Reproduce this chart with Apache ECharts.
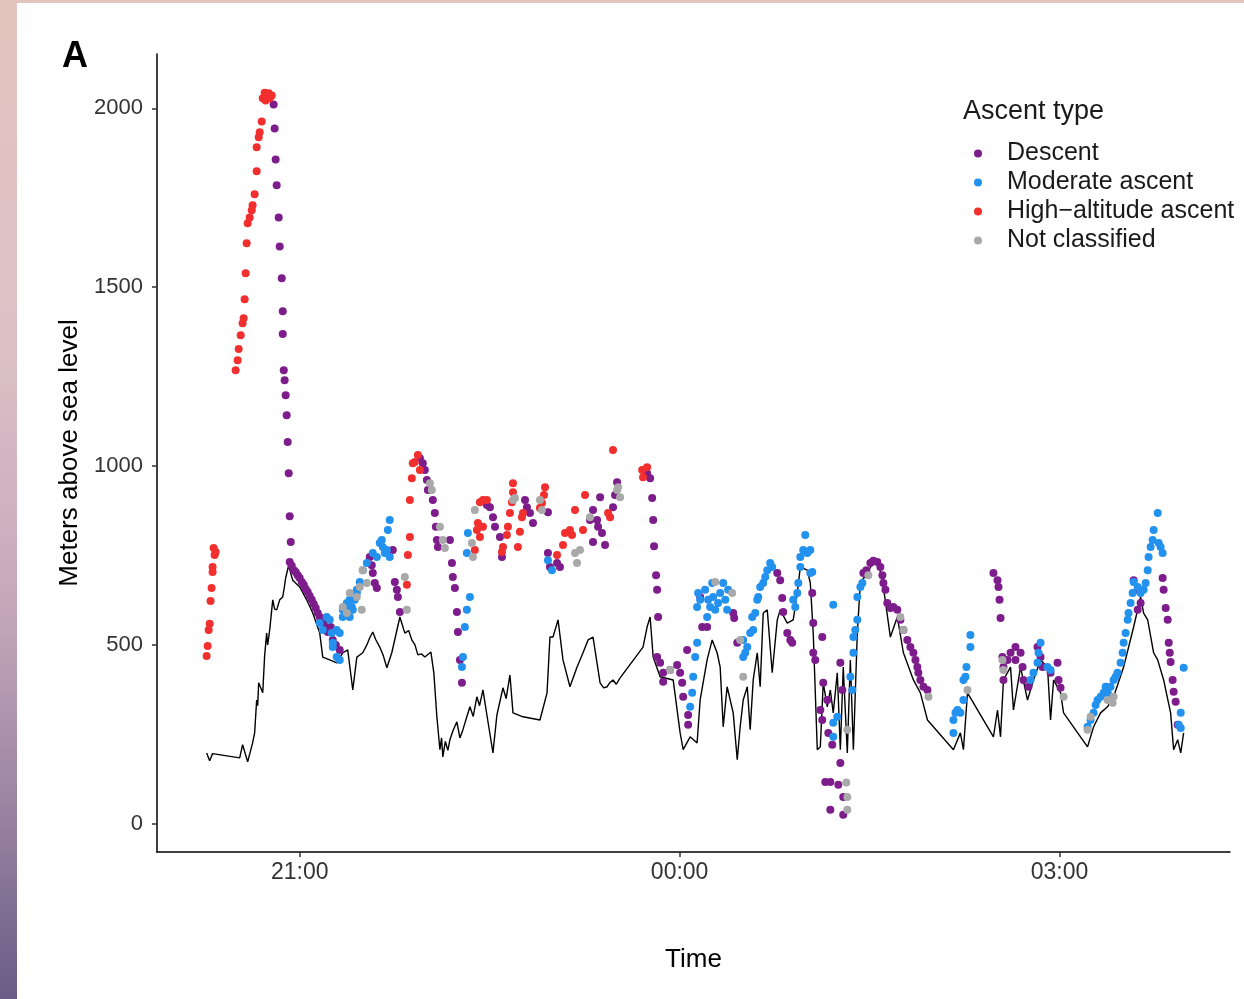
<!DOCTYPE html>
<html>
<head>
<meta charset="utf-8">
<title>Ascent type</title>
<script src="https://cdn.jsdelivr.net/npm/echarts@6/dist/echarts.min.js"></script>
<style>
html, body {
  margin: 0;
  padding: 0;
  width: 1244px;
  height: 999px;
  overflow: hidden;
  background: linear-gradient(to bottom, #e4c4be 0%, #dcc0c6 35%, #c7a8bb 60%, #9c86a4 80%, #6a5c86 100%);
}
#chart {
  position: absolute;
  left: 17px;
  top: 3px;
  width: 1227px;
  height: 996px;
  background: #fff;
}
</style>
</head>
<body>
<div id="chart"></div>
<script>
// time in hours (24 = 00:00 next day), altitude in metres
const timeTicks = [21, 24, 27]
const timeLabels = ['21:00', '00:00', '03:00']
const altTicks = [0, 500, 1000, 1500, 2000]
const typeNames = ['Descent', 'Moderate ascent', 'High\u2212altitude ascent', 'Not classified']
const typeColors = ['#7d1c8b', '#2391ee', '#f22f2f', '#a9a9a9']

// ground line
const terrain = [
  [20.265,198],[20.289,176],[20.312,196],[20.526,184],[20.549,221],[20.589,173],[20.628,226],[20.644,254],[20.660,346],[20.668,330],[20.676,394],
  [20.692,380],[20.708,366],[20.723,470],[20.739,533],[20.747,500],[20.763,542],[20.787,626],[20.802,600],[20.818,598],[20.842,626],[20.866,634],
  [20.878,660],[20.889,687],[20.913,723],[20.929,700],[20.945,681],
  [21.000,662],[21.055,626],[21.103,589],[21.158,533],[21.182,466],[21.237,458],[21.292,450],[21.340,478],[21.379,486],[21.419,374],
  [21.451,466],[21.498,478],[21.530,500],[21.553,520],[21.577,536],[21.600,515],[21.632,494],[21.660,470],[21.688,436],[21.727,478],[21.791,578],
  [21.830,533],[21.860,540],[21.885,514],[21.910,500],[21.933,472],[21.960,475],[21.988,466],[22.036,480],[22.059,422],[22.083,299],[22.107,207],
  [22.120,240],[22.130,187],[22.150,230],[22.170,205],[22.186,235],[22.210,260],[22.241,285],[22.265,240],[22.289,263],[22.320,300],[22.344,327],
  [22.370,300],[22.399,355],[22.420,330],[22.447,374],[22.478,304],[22.526,198],[22.557,304],[22.605,380],[22.630,350],[22.660,416],[22.684,310],
  [22.763,299],[22.897,290],
  [22.953,366],[22.976,522],[23.000,522],[23.040,570],[23.079,458],[23.134,383],[23.190,438],[23.237,478],[23.277,514],[23.316,522],
  [23.372,394],[23.400,380],[23.427,383],[23.450,395],[23.474,402],[23.500,390],[23.530,408],[23.711,494],[23.743,550],[23.767,578],[23.791,466],
  [23.846,411],[23.949,402],
  [24.004,254],[24.028,207],[24.083,243],[24.138,226],[24.162,346],[24.217,458],[24.257,514],[24.296,478],[24.320,438],[24.344,271],
  [24.375,383],[24.423,310],[24.455,179],[24.478,271],[24.502,346],[24.534,383],[24.557,263],[24.581,402],[24.613,478],[24.636,383],
  [24.660,589],[24.692,598],[24.731,422],[24.771,570],[24.794,598],[24.850,561],[24.897,570],[24.929,645],[24.953,718],[25.008,709],
  [25.032,673],[25.055,533],[25.087,207],[25.111,215],[25.134,394],[25.166,327],[25.190,374],[25.213,310],[25.245,422],[25.269,207],
  [25.292,438],[25.324,198],[25.348,458],[25.372,207],[25.403,533],[25.427,673],[25.482,701],[25.538,737],[25.569,732],[25.609,662],
  [25.664,522],[25.719,578],[25.767,478],[25.846,402],[25.901,366],[25.957,290],[26.162,207],[26.217,254],[26.241,207],[26.273,366],
  [26.478,243],[26.510,318],[26.534,243],[26.557,402],[26.613,438],[26.636,318],[26.692,438],[26.747,346],[26.794,402],[26.850,458],
  [26.905,438],[26.929,290],[26.953,402],[27.008,366],[27.032,310],[27.221,215],[27.269,271],[27.324,310],[27.379,327],[27.427,355],
  [27.506,438],[27.585,550],[27.640,634],[27.664,589],[27.696,570],[27.743,478],[27.775,458],[27.822,402],[27.877,310],[27.901,207],
  [27.933,235],[27.957,198],[27.980,254]
]

const descent = [
  [20.794,2011],[20.802,1944],[20.810,1857],[20.818,1785],[20.834,1695],[20.842,1614],[20.858,1525],[20.866,1433],[20.866,1369],[20.874,1268],
  [20.881,1240],[20.889,1198],[20.897,1142],[20.905,1067],[20.913,980],[20.921,860],[20.929,788],
  [20.921,732],[20.937,721],[20.953,709],[20.968,704],[20.984,695],[21.000,687],[21.016,676],[21.032,668],[21.047,656],[21.063,648],
  [21.079,637],[21.095,626],[21.111,614],[21.126,603],[21.142,589],[21.158,578],[21.174,570],[21.190,559],[21.205,547],[21.221,536],
  [21.245,550],[21.261,514],[21.285,500],[21.316,486],
  [21.553,746],[21.569,723],[21.577,701],[21.593,673],[21.609,659],[21.735,765],[21.751,676],[21.767,654],[21.775,634],[21.791,592],
  [21.949,1022],[21.972,1008],[21.988,989],[22.004,961],[22.012,933],[22.051,905],[22.067,869],[22.075,830],[22.083,793],[22.091,774],
  [22.186,793],[22.202,729],[22.209,690],[22.225,659],[22.241,592],[22.249,536],[22.265,458],[22.281,394],
  [22.478,891],[22.502,885],[22.526,857],[22.542,830],[22.581,802],[22.597,746],[22.779,905],[22.794,885],[22.818,869],[22.842,841],
  [22.960,871],[22.960,757],[22.976,718],[23.032,729],[23.055,718],
  [23.292,849],[23.316,877],[23.348,849],[23.356,830],[23.387,813],[23.411,779],[23.316,788],[23.372,913],[23.474,885],[23.490,919],[23.506,955],
  [23.743,980],[23.767,966],[23.783,911],[23.791,849],[23.798,776],[23.814,695],[23.822,654],[23.830,578],
  [23.822,466],[23.846,450],[23.870,422],[23.870,397],[23.925,430],[23.980,444],[24.004,422],[24.020,394],[24.028,355],[24.059,486],
  [24.067,304],[24.067,277],[24.162,634],[24.178,550],[24.217,550],
  [24.423,589],[24.431,575],[24.455,506],
  [24.771,701],[24.794,681],[24.810,631],[24.818,592],[24.850,533],[24.874,514],[24.889,506],
  [25.047,645],[25.055,561],[25.055,478],[25.071,458],[25.126,522],[25.134,394],[25.166,346],[25.111,318],[25.126,290],[25.174,254],
  [25.205,221],[25.269,450],[25.285,374],[25.269,170],[25.150,117],[25.190,117],[25.253,109],[25.292,75],[25.190,39],[25.292,25],
  [25.451,701],[25.474,709],[25.506,729],[25.530,735],[25.561,732],[25.585,718],[25.601,695],[25.609,673],[25.625,654],[25.640,617],
  [25.664,603],[25.688,606],[25.719,598],[25.743,570],[25.767,542],[25.798,514],[25.822,494],[25.846,478],[25.862,458],[25.877,438],
  [25.885,422],[25.901,402],[25.925,383],[25.957,374],
  [26.478,701],[26.510,681],[26.518,662],[26.526,626],[26.534,575],
  [26.549,466],[26.557,438],[26.557,402],[26.589,458],[26.613,478],[26.652,494],[26.652,458],[26.692,478],[26.708,438],[26.715,402],
  [26.755,383],[26.826,494],[26.850,466],[26.866,438],[26.929,422],[26.984,450],[26.992,402],[27.008,380],
  [27.585,681],[27.617,654],[27.640,617],[27.617,598],
  [27.814,687],[27.822,654],[27.838,603],[27.854,570],[27.862,506],[27.870,478],[27.877,452],[27.893,402],[27.901,369],[27.917,341],[27.933,277]
]

const moderate = [
  [21.158,561],[21.182,542],[21.213,578],[21.237,570],[21.253,533],[21.292,542],[21.316,533],[21.261,494],[21.292,466],[21.316,458],[21.261,506],
  [21.340,598],[21.372,617],[21.395,626],[21.411,606],[21.419,598],[21.435,626],[21.451,645],[21.474,676],[21.498,709],[21.530,729],
  [21.577,757],[21.609,746],[21.632,785],[21.648,793],[21.656,774],[21.672,757],[21.688,765],[21.696,821],[21.711,849],[21.711,746],
  [21.451,654],[21.395,578],[21.372,606],[21.340,578],
  [22.344,634],[22.320,598],[22.304,550],[22.289,466],[22.281,438],[22.328,813],[22.320,757],
  [22.960,737],[22.992,709],
  [24.138,506],[24.123,466],[24.107,411],[24.099,366],[24.083,327],[24.146,645],[24.138,606],[24.162,626],[24.201,654],[24.225,626],
  [24.241,606],[24.257,673],[24.265,634],[24.281,598],[24.304,617],[24.320,645],[24.344,673],[24.360,626],[24.375,598],[24.383,654],[24.217,578],
  [24.502,514],[24.518,478],[24.534,494],[24.557,533],[24.573,578],[24.581,542],[24.597,589],[24.613,626],[24.621,634],[24.636,662],
  [24.660,673],[24.676,690],[24.692,709],[24.715,729],[24.731,718],[24.502,466],
  [24.897,626],[24.913,606],[24.929,645],[24.937,673],[24.953,718],[24.953,746],[24.976,765],[24.992,807],[25.008,757],[25.032,765],
  [25.032,701],[25.047,704],[25.213,612],[25.245,299],[25.213,282],[25.213,243],
  [25.348,411],[25.364,374],[25.372,478],[25.372,522],[25.387,542],[25.403,570],[25.403,634],[25.427,662],[25.443,673],
  [26.162,254],[26.162,290],[26.178,310],[26.194,318],[26.217,310],[26.241,346],[26.241,402],[26.257,411],[26.265,438],[26.296,494],[26.296,528],
  [26.771,402],[26.794,422],[26.826,450],[26.834,478],[26.850,506],[26.905,438],[26.929,430],
  [27.221,271],[27.245,290],[27.269,310],[27.285,332],[27.300,346],[27.324,355],[27.348,366],[27.364,383],[27.379,374],[27.387,360],
  [27.403,383],[27.427,402],[27.443,411],[27.458,422],[27.482,450],[27.498,478],[27.506,506],[27.522,533],[27.538,570],[27.545,589],
  [27.561,617],[27.577,645],[27.585,676],[27.617,662],[27.640,645],[27.664,654],[27.680,673],[27.696,709],[27.703,746],[27.719,774],
  [27.735,793],[27.743,821],[27.775,869],[27.783,785],[27.798,774],[27.814,757],[27.980,436],[27.957,310],[27.941,277],[27.957,268]
]

const highAltitude = [
  [20.265,469],[20.273,497],[20.281,542],[20.289,559],[20.296,623],[20.304,659],[20.312,704],[20.312,718],[20.320,771],[20.328,751],[20.336,760],
  [20.494,1268],[20.510,1296],[20.518,1327],[20.534,1366],[20.549,1399],[20.557,1413],[20.565,1466],[20.573,1539],[20.581,1623],[20.589,1679],
  [20.605,1695],[20.621,1715],[20.628,1729],[20.644,1760],[20.660,1824],[20.660,1891],[20.676,1919],[20.684,1933],[20.700,1963],[20.708,2028],
  [20.723,2044],[20.731,2022],[20.739,2031],[20.755,2042],[20.763,2028],[20.779,2036],
  [21.846,668],[21.854,751],[21.870,802],[21.870,905],[21.885,966],[21.893,1008],[21.909,1011],[21.933,1031],[21.949,989],
  [22.383,765],[22.399,821],[22.407,841],[22.423,899],[22.423,802],[22.447,905],[22.447,830],[22.478,905],
  [22.597,760],[22.605,774],[22.636,807],[22.644,830],[22.660,869],[22.676,899],[22.684,927],[22.684,952],[22.723,774],[22.739,816],
  [22.755,857],[22.763,869],
  [22.897,883],[22.913,897],[22.929,919],[22.937,941],[23.032,751],[23.079,779],[23.095,813],[23.134,821],[23.150,807],[23.174,877],
  [23.237,821],[23.253,919],
  [23.435,869],[23.451,857],[23.474,1045],[23.704,989],[23.711,969],[23.743,997]
]

const notClassified = [
  [21.340,606],[21.372,589],[21.395,645],[21.451,634],[21.474,662],[21.498,709],[21.490,598],[21.530,673],[21.830,690],[21.846,598],
  [22.028,952],[22.043,933],[22.107,830],[22.130,793],[22.146,771],[22.360,785],[22.368,746],[22.383,877],[22.684,905],[22.700,911],
  [22.897,905],[22.913,877],[23.174,757],[23.190,729],[23.213,765],[23.292,857],[23.506,933],[23.514,941],[23.530,913],[23.925,430],
  [24.281,676],[24.415,645],[24.478,514],[24.502,411],[25.316,115],[25.324,75],[25.324,39],[25.324,263],[25.490,695],[25.743,578],
  [25.767,542],[25.965,355],[26.273,374],[26.549,458],[26.557,430],[27.032,355],[27.221,263],[27.245,299],[27.379,346],[27.419,338],[27.427,355]
]

const pointSets = [descent, moderate, highAltitude, notClassified]
const font = '"Liberation Sans", Arial, sans-serif'

const chart = echarts.init(document.getElementById('chart'))

const pointSeries = typeNames.map((name, i) => ({
  name: name,
  type: 'scatter',
  data: pointSets[i],
  symbol: 'circle',
  symbolSize: 8,
  itemStyle: { color: typeColors[i], opacity: 1 },
  z: 3
}))

chart.setOption({
  animation: false,
  backgroundColor: '#fff',
  textStyle: { fontFamily: font },
  grid: { left: 140, right: 14, top: 51, bottom: 147 },
  graphic: [
    {
      type: 'text', x: 45, y: 54,
      style: { text: 'A', font: 'bold 36px ' + font, fill: '#000', verticalAlign: 'middle' }
    },
    {
      type: 'text', x: 946, y: 109,
      style: { text: 'Ascent type', font: '27px ' + font, fill: '#1a1a1a', verticalAlign: 'middle' }
    }
  ],
  legend: {
    data: typeNames,
    orient: 'vertical',
    left: 952,
    top: 133,
    icon: 'circle',
    itemWidth: 48,
    itemHeight: 8,
    itemGap: 4,
    selectedMode: false,
    textStyle: { fontSize: 25, lineHeight: 25, color: '#1a1a1a', fontFamily: font }
  },
  xAxis: {
    type: 'value',
    min: 19.873,
    max: 28.346,
    name: 'Time',
    nameLocation: 'middle',
    nameGap: 95,
    nameTextStyle: { fontSize: 26, color: '#000' },
    axisLine: { onZero: false, lineStyle: { color: '#000', width: 1.5 } },
    axisTick: { show: true, length: 5, customValues: timeTicks, lineStyle: { color: '#333', width: 1.5 } },
    axisLabel: {
      customValues: timeTicks,
      formatter: v => timeLabels[timeTicks.indexOf(v)],
      fontSize: 23,
      color: '#333',
      margin: 9
    },
    splitLine: { show: false }
  },
  yAxis: {
    type: 'value',
    min: -79,
    max: 2152,
    name: 'Meters above sea level',
    nameLocation: 'middle',
    nameGap: 72,
    nameTextStyle: { fontSize: 26, color: '#000' },
    axisLine: { show: true, onZero: false, lineStyle: { color: '#000', width: 1.5 } },
    axisTick: { show: true, length: 5, customValues: altTicks, lineStyle: { color: '#333', width: 1.5 } },
    axisLabel: { customValues: altTicks, formatter: v => String(v), fontSize: 22, color: '#333', margin: 14 },
    splitLine: { show: false }
  },
  series: [
    {
      name: 'Terrain',
      type: 'line',
      data: terrain,
      showSymbol: false,
      symbol: 'none',
      lineStyle: { color: '#000', width: 1.4 },
      silent: true,
      z: 2
    }
  ].concat(pointSeries)
})
</script>
</body>
</html>
